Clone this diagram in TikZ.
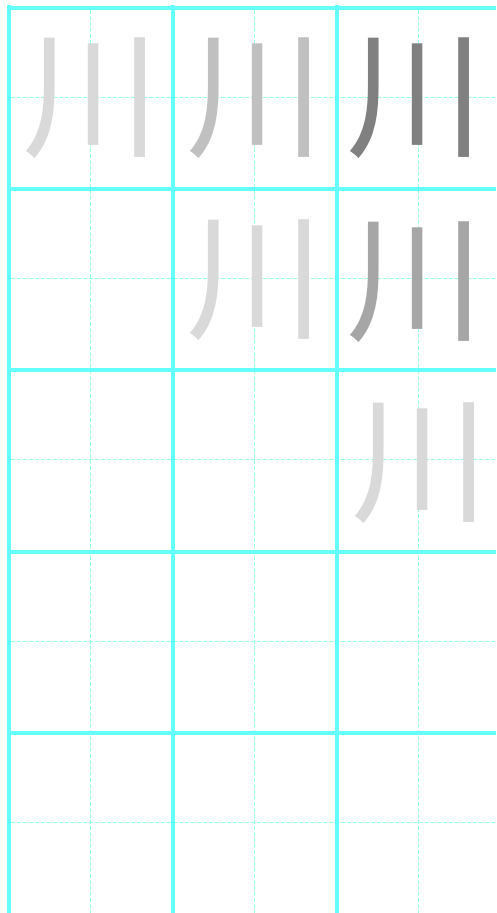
\documentclass[tikz,border=0pt]{standalone}
\usepackage{fontspec}
\newfontfamily\cjk{Noto Sans CJK SC}
\definecolor{gridline}{RGB}{102,255,255}
\definecolor{guideline}{RGB}{150,255,215}
\definecolor{inkA}{RGB}{217,217,217}
\definecolor{inkB}{RGB}{192,192,192}
\definecolor{inkC}{RGB}{128,128,128}
\definecolor{inkD}{RGB}{166,166,166}
\tikzset{
  cellline/.style={draw=gridline, line width=4pt},
  guide/.style={draw=guideline, line width=1pt, dash pattern=on 4pt off 2pt},
  glyph/.style={inner sep=0pt, font=\cjk\fontsize{138}{138}\selectfont},
}
\begin{document}
\begin{tikzpicture}[x=1pt,y=-1pt]
\useasboundingbox (0,0) rectangle (496,913);
\fill[white] (0,0) rectangle (496,913);
% guide lines
\foreach \x in {90.5,254.5,418.5} \draw[guide] (\x,9.5) -- (\x,913);
\foreach \y in {97.5,278.5,459.5,641.5,822.5} \draw[guide] (11,\y) -- (496,\y);
% cell lines
\foreach \x in {9,173,337} \draw[cellline] (\x,5) -- (\x,913);
\foreach \y in {7.5,189,370,551.5,733} \draw[cellline] (7,\y) -- (496,\y);
% characters
\node[glyph, text=inkA] (c11) at (91,98) {川};
\node[glyph, text=inkB] (c12) at (255,98) {川};
\node[glyph, text=inkC] (c13) at (415,98) {川};
\node[glyph, text=inkA] (c22) at (255,280) {川};
\node[glyph, text=inkD] (c23) at (415,282) {川};
\node[glyph, text=inkA] (c33) at (420.5,463) {川};
\end{tikzpicture}
\end{document}
